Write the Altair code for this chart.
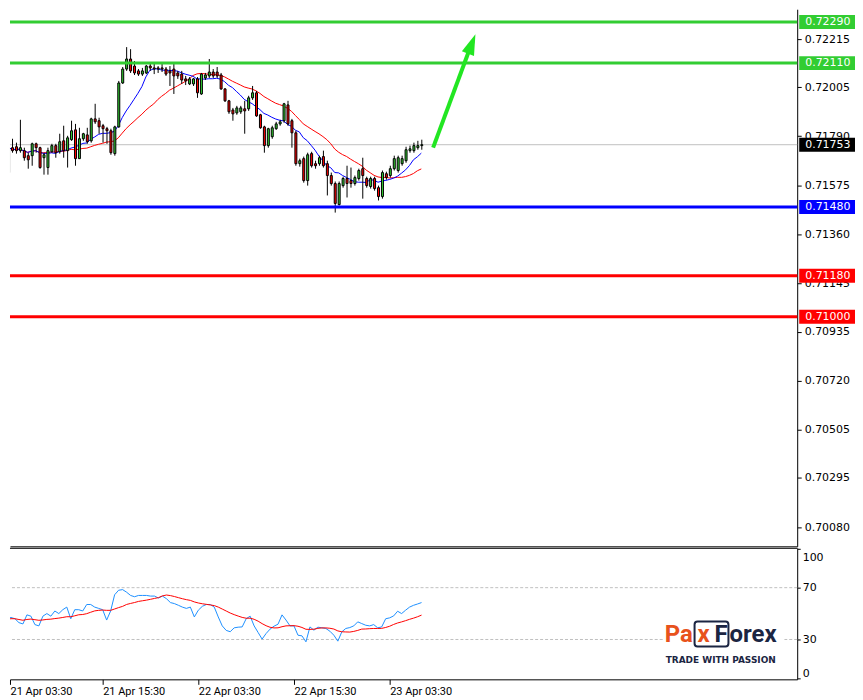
import altair as alt
import pandas as pd

# ---------------- data (30-minute candles) ----------------
opens = [0.71631, 0.71740, 0.71744, 0.71727, 0.71727, 0.71705, 0.71705, 0.71757, 0.71740, 0.71696,
         0.71653, 0.71722, 0.71749, 0.71722, 0.71770, 0.71727, 0.71775, 0.71818, 0.71692, 0.71779,
         0.71796, 0.71770, 0.71866, 0.71858, 0.71836, 0.71823, 0.71814, 0.71714, 0.71831, 0.72023,
         0.72084, 0.72128, 0.72097, 0.72076, 0.72062, 0.72067, 0.72097, 0.72089, 0.72089, 0.72089,
         0.72084, 0.72076, 0.72084, 0.72067, 0.72062, 0.72041, 0.72019, 0.72019, 0.72041, 0.71975,
         0.72045, 0.72054, 0.72071, 0.72071, 0.72058, 0.71997, 0.71945, 0.71905, 0.71892, 0.71897,
         0.71910, 0.71910, 0.71958, 0.71980, 0.71884, 0.71831, 0.71749, 0.71788, 0.71823, 0.71844,
         0.71858, 0.71927, 0.71858, 0.71805, 0.71670, 0.71692, 0.71596, 0.71714, 0.71670, 0.71670,
         0.71701, 0.71670, 0.71618, 0.71583, 0.71491, 0.71574, 0.71605, 0.71596, 0.71583, 0.71605,
         0.71648, 0.71605, 0.71570, 0.71605, 0.71565, 0.71526, 0.71626, 0.71618, 0.71648, 0.71640,
         0.71670, 0.71683, 0.71727, 0.71727, 0.71740, 0.71749]
highs = [0.71749, 0.71779, 0.71762, 0.71862, 0.71740, 0.71718, 0.71762, 0.71762, 0.71744, 0.71718,
         0.71740, 0.71757, 0.71757, 0.71801, 0.71836, 0.71792, 0.71858, 0.71844, 0.71827, 0.71805,
         0.71827, 0.71871, 0.71932, 0.71871, 0.71844, 0.71831, 0.71823, 0.71836, 0.72032, 0.72093,
         0.72180, 0.72171, 0.72119, 0.72084, 0.72089, 0.72102, 0.72106, 0.72106, 0.72097, 0.72106,
         0.72093, 0.72097, 0.72106, 0.72076, 0.72076, 0.72054, 0.72049, 0.72045, 0.72049, 0.72067,
         0.72067, 0.72128, 0.72084, 0.72093, 0.72067, 0.72001, 0.71949, 0.71914, 0.71923, 0.71923,
         0.71945, 0.71967, 0.72010, 0.71988, 0.71888, 0.71836, 0.71827, 0.71836, 0.71853, 0.71862,
         0.71936, 0.71945, 0.71866, 0.71814, 0.71692, 0.71701, 0.71718, 0.71722, 0.71683, 0.71705,
         0.71727, 0.71683, 0.71631, 0.71592, 0.71592, 0.71613, 0.71661, 0.71653, 0.71618, 0.71648,
         0.71696, 0.71613, 0.71613, 0.71613, 0.71574, 0.71640, 0.71635, 0.71661, 0.71705, 0.71705,
         0.71705, 0.71744, 0.71749, 0.71762, 0.71770, 0.71775]
lows = [0.71622, 0.71718, 0.71714, 0.71718, 0.71683, 0.71648, 0.71661, 0.71718, 0.71648, 0.71622,
        0.71622, 0.71718, 0.71696, 0.71714, 0.71696, 0.71653, 0.71770, 0.71661, 0.71692, 0.71770,
        0.71757, 0.71762, 0.71844, 0.71801, 0.71762, 0.71757, 0.71709, 0.71705, 0.71827, 0.72019,
        0.72076, 0.72067, 0.72058, 0.72054, 0.72054, 0.72062, 0.72076, 0.72062, 0.72067, 0.72071,
        0.72054, 0.72010, 0.71975, 0.72041, 0.72019, 0.72014, 0.72014, 0.72010, 0.71958, 0.71971,
        0.72036, 0.72045, 0.72045, 0.72045, 0.71993, 0.71940, 0.71888, 0.71858, 0.71884, 0.71888,
        0.71801, 0.71901, 0.71949, 0.71875, 0.71823, 0.71718, 0.71740, 0.71779, 0.71818, 0.71836,
        0.71849, 0.71836, 0.71740, 0.71661, 0.71657, 0.71587, 0.71574, 0.71653, 0.71648, 0.71661,
        0.71653, 0.71531, 0.71574, 0.71456, 0.71487, 0.71565, 0.71522, 0.71565, 0.71574, 0.71596,
        0.71517, 0.71565, 0.71561, 0.71552, 0.71509, 0.71517, 0.71600, 0.71609, 0.71640, 0.71631,
        0.71661, 0.71674, 0.71718, 0.71718, 0.71731, 0.71731]
closes = [0.71740, 0.71727, 0.71727, 0.71740, 0.71696, 0.71687, 0.71757, 0.71740, 0.71653, 0.71709,
          0.71727, 0.71749, 0.71718, 0.71766, 0.71727, 0.71783, 0.71814, 0.71692, 0.71779, 0.71801,
          0.71766, 0.71866, 0.71853, 0.71831, 0.71823, 0.71814, 0.71718, 0.71831, 0.72023, 0.72084,
          0.72128, 0.72076, 0.72067, 0.72062, 0.72076, 0.72097, 0.72089, 0.72084, 0.72084, 0.72084,
          0.72062, 0.72067, 0.72054, 0.72054, 0.72036, 0.72032, 0.72041, 0.72041, 0.71980, 0.72062,
          0.72058, 0.72071, 0.72054, 0.72054, 0.71997, 0.71945, 0.71897, 0.71888, 0.71914, 0.71914,
          0.71901, 0.71958, 0.71980, 0.71879, 0.71827, 0.71749, 0.71823, 0.71827, 0.71844, 0.71853,
          0.71932, 0.71844, 0.71805, 0.71670, 0.71683, 0.71596, 0.71709, 0.71661, 0.71661, 0.71696,
          0.71661, 0.71618, 0.71583, 0.71496, 0.71583, 0.71605, 0.71583, 0.71583, 0.71609, 0.71640,
          0.71618, 0.71574, 0.71605, 0.71561, 0.71526, 0.71631, 0.71609, 0.71648, 0.71692, 0.71696,
          0.71692, 0.71731, 0.71735, 0.71749, 0.71749, 0.71753]
rsi_values = [45.1, 46, 47, 46, 43, 42, 49, 48, 41.5, 40.5,
              48, 50, 48, 52, 50, 53, 55, 46, 53, 53,
              52, 57, 57, 55, 54, 53, 45, 52, 64.5, 68,
              68.5, 66.5, 64, 63, 64, 64, 64, 63.5, 63.5, 62,
              63.5, 61.5, 58.5, 57.7, 56.4, 55, 54, 55, 47.4, 52.6,
              55.6, 57, 57, 55, 47.4, 40.5, 37, 36, 39, 39.5,
              39.7, 46, 48, 40.5, 35.4, 30.3, 34.6, 38, 40.3, 41.8,
              49, 45, 40.5, 40.5, 33.3, 32.8, 28.2, 39.7, 37.2, 39.5,
              39, 38.5, 36.4, 33.3, 28.7, 35.9, 38.5, 39.2, 40.5, 43.6,
              42.3, 41, 40.5, 41.5, 39, 39.7, 46, 46.7, 48.2, 51.8,
              50, 52.6, 55, 56.4, 57.4, 58.5]

time_label_idx = [1, 25, 49, 73, 97]
time_labels = ["21 Apr 03:30", "21 Apr 15:30", "22 Apr 03:30", "22 Apr 15:30", "23 Apr 03:30"]
price_ticks = [0.72215, 0.72005, 0.71790, 0.71575, 0.71360, 0.71145,
               0.70935, 0.70720, 0.70505, 0.70295, 0.70080]
levels = [0.72290, 0.72110, 0.71480, 0.71180, 0.71000]
level_colors = ["#32CD32", "#32CD32", "#0000FF", "#FF0000", "#FF0000"]
current_price = 0.71753
arrow_x = [108.0, 117.1]
arrow_y = [0.71740, 0.72163]
arrow_head_x = [117.8]
arrow_head_y = [0.72194]
rsi_ticks = [0, 30, 70, 100]
rsi_levels = [30, 70]

# ---------------- frames ----------------
n = len(closes)
df = pd.DataFrame({"i": list(range(n)), "open": opens, "high": highs,
                   "low": lows, "close": closes, "rsi": rsi_values})
df["fill"] = ["#32CD32" if c >= o else "#FF0000" for o, c in zip(opens, closes)]
df["ma_fast"] = df["close"].rolling(9, min_periods=1).mean()
df["ma_slow"] = df["close"].rolling(21, min_periods=1).mean()
df["rsi_ma"] = df["rsi"].rolling(14, min_periods=1).mean()

levels_df = pd.DataFrame({"price": levels, "color": level_colors})
tags_df = pd.DataFrame({"price": levels + [current_price], "color": level_colors + ["#000000"]})
cur_df = pd.DataFrame({"price": [current_price]})
arrow_df = pd.DataFrame({"i": arrow_x, "ay": arrow_y})
head_df = pd.DataFrame({"i": arrow_head_x, "ay": arrow_head_y})
rsi_lv_df = pd.DataFrame({"lvl": rsi_levels})
one = pd.DataFrame({"a": [0]})

# ---------------- scales / axes ----------------
X_DOMAIN = [1.75, 199.25]
Y_DOMAIN = [0.699958, 0.723458]
RSI_DOMAIN = [-0.77, 100.77]
FONT_AX = "DejaVu Sans"
NAVY = "#1B2542"
ORANGE = "#E8521C"
ARROW = "#22E622"

xscale = alt.Scale(domain=X_DOMAIN, nice=False, zero=False)
yscale = alt.Scale(domain=Y_DOMAIN, nice=False, zero=False)
rscale = alt.Scale(domain=RSI_DOMAIN, nice=False, zero=False)

x_main = alt.X("i:Q", scale=xscale,
               axis=alt.Axis(labels=False, ticks=False, grid=False, domain=True,
                             domainColor="black", domainWidth=1, title=None))
y_axis_main = alt.Axis(orient="right", values=price_ticks, format=".5f", grid=False,
                       tickSize=4, tickColor="black", tickWidth=1, domainColor="black",
                       domainWidth=1, labelFont=FONT_AX, labelFontSize=11, labelColor="black",
                       labelPadding=3, labelOverlap=False, labelFlush=False, title=None)


def ym(field):
    return alt.Y(field, type="quantitative", scale=yscale, axis=y_axis_main)


tick_vals = [max(v, X_DOMAIN[0]) for v in time_label_idx]
expr = "'" + time_labels[-1] + "'"
for k in range(len(tick_vals) - 2, -1, -1):
    mid = (tick_vals[k] + tick_vals[k + 1]) / 2
    expr = "datum.value < %s ? '%s' : (%s)" % (mid, time_labels[k], expr)

x_rsi = alt.X("i:Q", scale=xscale,
              axis=alt.Axis(values=tick_vals, labelExpr=expr, grid=False, tickSize=5,
                            tickColor="black", domainColor="black", domainWidth=1,
                            labelAlign="left", labelBaseline="top", labelPadding=1,
                            labelFont="Roboto", labelFontSize=11, labelColor="black",
                            labelFlush=False, labelOverlap=False, title=None))
rsi_axis = alt.Axis(orient="right", values=rsi_ticks, grid=False, tickSize=3,
                    tickColor="black", domainColor="black", domainWidth=1,
                    labelFont=FONT_AX, labelFontSize=11, labelColor="black", labelPadding=2,
                    labelBaseline={"condition": [{"test": "datum.value >= 100", "value": "top"},
                                                 {"test": "datum.value <= 0", "value": "bottom"}],
                                   "value": "middle"},
                    labelOffset={"condition": {"test": "datum.value >= 100", "value": 3},
                                 "value": 0},
                    labelFlush=False, labelOverlap=False, title=None)


def yr(field):
    return alt.Y(field, type="quantitative", scale=rscale, axis=rsi_axis)


# ---------------- main panel ----------------
cur_line = alt.Chart(cur_df).mark_rule(color="#C0C0C0", strokeWidth=1).encode(y=ym("price"))
ma_slow = alt.Chart(df).mark_line(color="#FF0000", strokeWidth=1, clip=True).encode(
    x=x_main, y=ym("ma_slow"))
ma_fast = alt.Chart(df).mark_line(color="#0000FF", strokeWidth=1, clip=True).encode(
    x=x_main, y=ym("ma_fast"))
wicks = alt.Chart(df).mark_rule(color="black", strokeWidth=1, xOffset=0.5, clip=True).encode(
    x=x_main, y=ym("high"), y2=alt.Y2("low"))
bodies = alt.Chart(df).mark_bar(size=2, stroke="black", strokeWidth=1, xOffset=0.5,
                                clip=True).encode(
    x=x_main, y=ym("open"), y2=alt.Y2("close"), fill=alt.Fill("fill:N", scale=None))
lvl_lines = alt.Chart(levels_df).mark_rule(strokeWidth=3).encode(
    y=ym("price"), color=alt.Color("color:N", scale=None))
arrow_line = alt.Chart(arrow_df).mark_line(color=ARROW, strokeWidth=4).encode(
    x=x_main, y=ym("ay"))
arrow_head = alt.Chart(head_df).mark_point(shape="M0,-1L0.62,1L-0.62,1Z", size=441, angle=21,
                                           filled=True, opacity=1, color=ARROW,
                                           strokeWidth=0).encode(x=x_main, y=ym("ay"))
tag_box = alt.Chart(tags_df).mark_rect(yOffset=-7, y2Offset=7).encode(
    x=alt.value(792), x2=alt.value(848), y=ym("price"), y2=alt.Y2("price"),
    fill=alt.Fill("color:N", scale=None))
tag_txt = alt.Chart(tags_df).mark_text(align="left", baseline="middle", font=FONT_AX,
                                       fontSize=11, color="white").encode(
    x=alt.value(798), y=ym("price"), text=alt.Text("price:Q", format=".5f"))

main = alt.layer(cur_line, ma_slow, ma_fast, wicks, bodies, lvl_lines, arrow_line, arrow_head,
                 tag_box, tag_txt).properties(width=790, height=539)

# ---------------- RSI panel ----------------
top_border = alt.Chart(one).mark_rule(color="black", strokeWidth=1).encode(y=alt.value(0.5))
rsi_lv = alt.Chart(rsi_lv_df).mark_rule(color="#C0C0C0", strokeWidth=1,
                                        strokeDash=[3, 2]).encode(y=yr("lvl"))
rsi_line = alt.Chart(df).mark_line(color="#1E90FF", strokeWidth=1, clip=True).encode(
    x=x_rsi, y=yr("rsi"))
rsi_ma = alt.Chart(df).mark_line(color="#FF0000", strokeWidth=1, clip=True).encode(
    x=x_rsi, y=yr("rsi_ma"))

logo_bg = alt.Chart(one).mark_rect(fill="white").encode(
    x=alt.value(656), x2=alt.value(777), y=alt.value(72), y2=alt.value(120))
logo_box = alt.Chart(one).mark_rect(fill="white", fillOpacity=0, stroke=NAVY, strokeWidth=2,
                                    cornerRadius=3).encode(
    x=alt.value(687), x2=alt.value(721), y=alt.value(74), y2=alt.value(99))


def logo_text(txt, x, color):
    return alt.Chart(one).mark_text(text=txt, align="left", baseline="alphabetic",
                                    font="Roboto", fontWeight="bold", fontSize=24,
                                    color=color).encode(x=alt.value(x), y=alt.value(95))


logo_pa = logo_text("Pa", 657, ORANGE)
logo_x = logo_text("x", 690, ORANGE)
logo_f = logo_text("F", 707, NAVY)
logo_orex = logo_text("orex", 722, NAVY)
logo_tag = alt.Chart(one).mark_text(text="TRADE WITH PASSION", align="left", baseline="middle",
                                    font="DejaVu Sans", fontWeight="bold", fontSize=9,
                                    color=NAVY).encode(x=alt.value(658), y=alt.value(113))

rsi_panel = alt.layer(top_border, rsi_lv, rsi_line, rsi_ma, logo_bg, logo_box, logo_pa, logo_x,
                      logo_f, logo_orex, logo_tag).properties(width=790, height=132)

chart = alt.vconcat(main, rsi_panel, spacing=1.5).properties(
    padding=0, background="white").configure_view(strokeWidth=0, stroke="transparent")

chart.save("out.html", embed_options={"renderer": "svg", "actions": False})
